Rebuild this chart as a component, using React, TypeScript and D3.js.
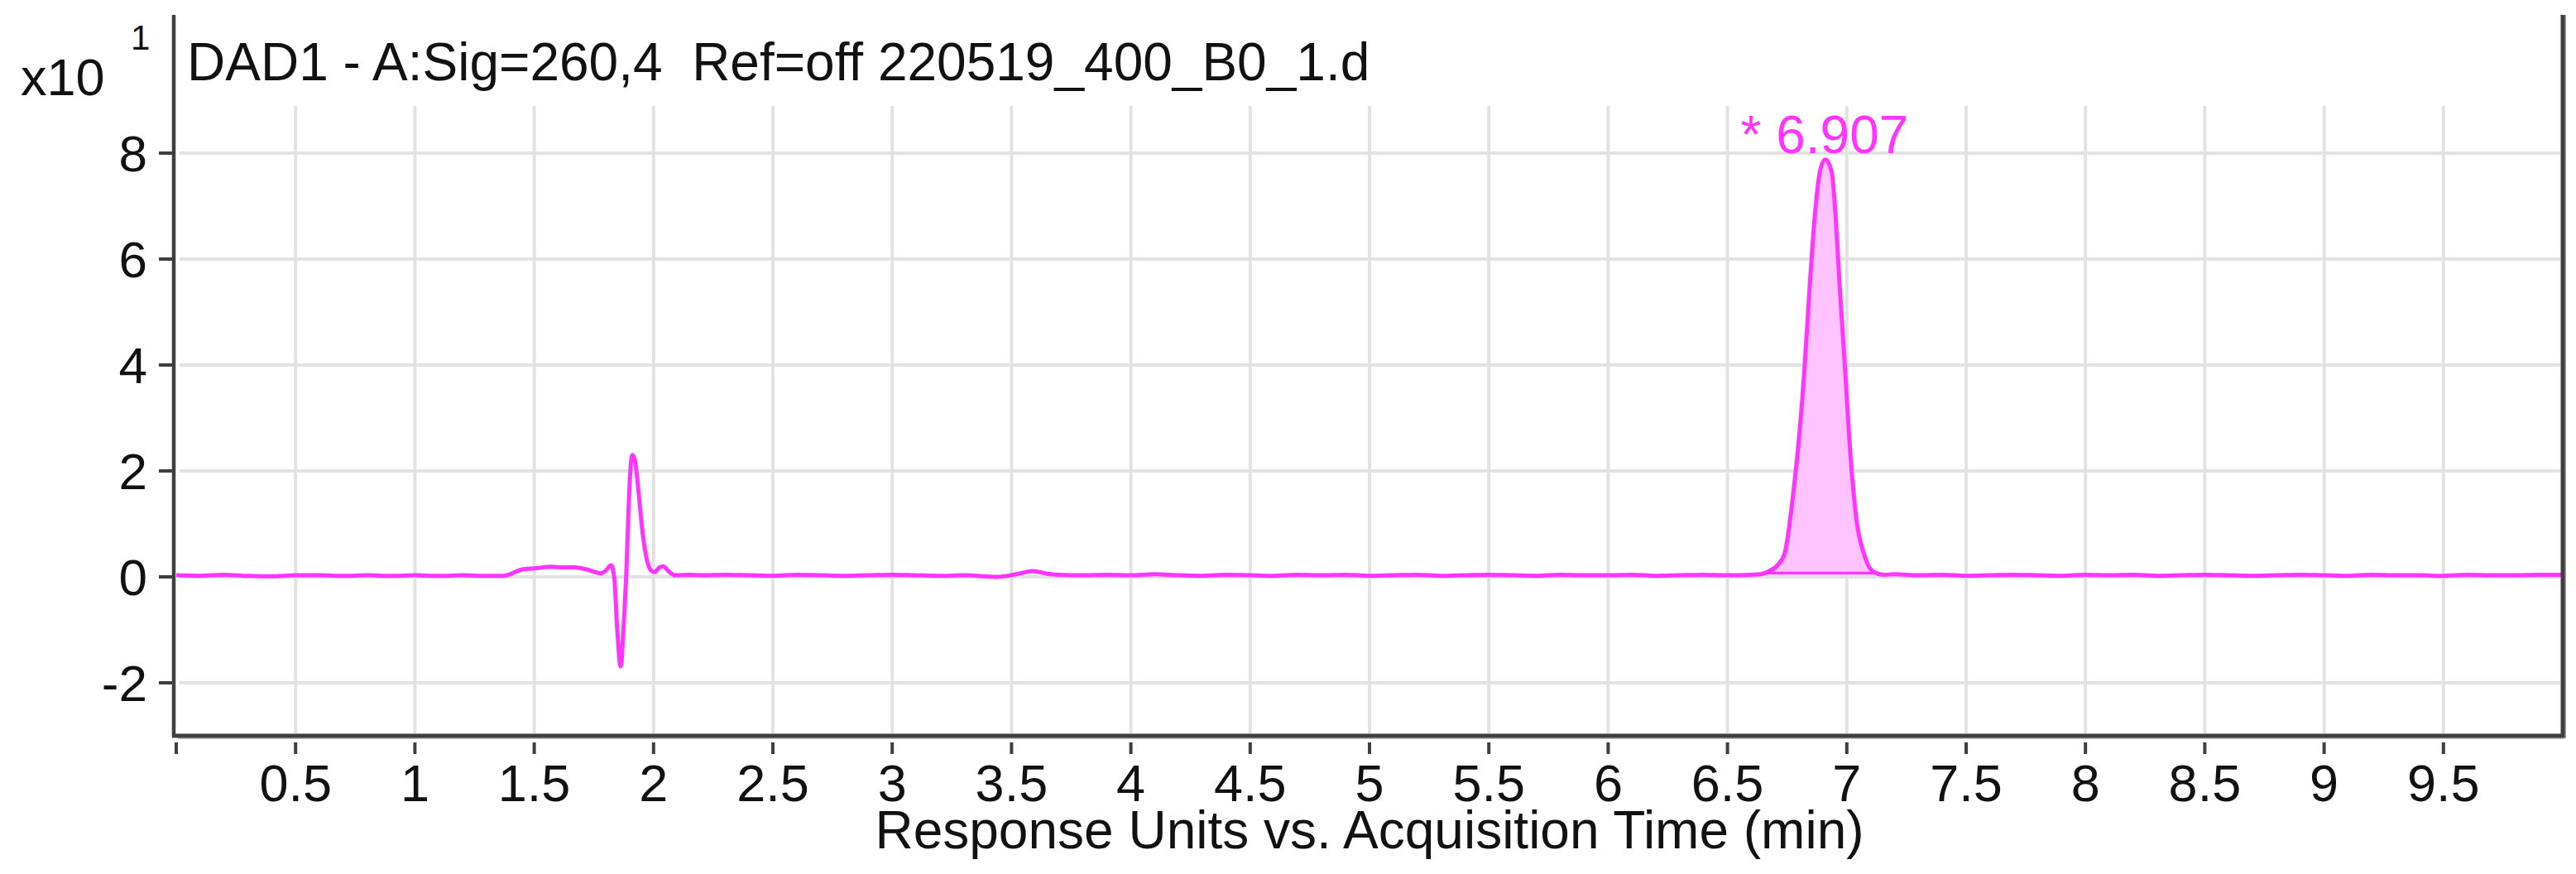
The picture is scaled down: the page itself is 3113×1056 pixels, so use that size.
import React, { useEffect } from 'react';
import * as d3 from 'd3';

const W = 3113;
const H = 1056;

const title = 'DAD1 - A:Sig=260,4  Ref=off 220519_400_B0_1.d';
const xTitle = 'Response Units vs. Acquisition Time (min)';
const yMultiplier = 'x10';
const yExponent = '1';

const xTicks = [0, 0.5, 1, 1.5, 2, 2.5, 3, 3.5, 4, 4.5, 5, 5.5, 6, 6.5, 7, 7.5, 8, 8.5, 9, 9.5];
const xTickLabels = ['', '0.5', '1', '1.5', '2', '2.5', '3', '3.5', '4', '4.5', '5', '5.5', '6', '6.5', '7', '7.5', '8', '8.5', '9', '9.5'];
const yTicks = [-2, 0, 2, 4, 6, 8];
const yTickLabels = ['-2', '0', '2', '4', '6', '8'];

const peakTime = 6.907;
const peakLabel = '* 6.907';
const peakApex = 7.88;
const peakFillStart = 6.655;
const peakFillEnd = 7.115;
const peakFillBase = 0.07;

// [time (min), response (x10^1)]
const trace: [number, number][] = [
  [0.0, 0.03], [0.1, 0.02], [0.2, 0.04], [0.3, 0.02], [0.4, 0.01], [0.5, 0.03],
  [0.6, 0.03], [0.7, 0.02], [0.8, 0.03], [0.9, 0.02], [1.0, 0.03], [1.1, 0.02],
  [1.2, 0.03], [1.3, 0.02], [1.37, 0.02], [1.45, 0.14], [1.5, 0.16], [1.57, 0.19],
  [1.62, 0.18], [1.67, 0.18], [1.72, 0.14], [1.78, 0.07], [1.8, 0.12], [1.822, 0.22],
  [1.835, 0.0], [1.848, -1.0], [1.862, -1.69], [1.875, -0.9], [1.887, 0.2], [1.898, 1.6],
  [1.911, 2.3], [1.922, 2.2], [1.935, 1.7], [1.955, 0.8], [1.972, 0.32], [1.99, 0.12],
  [2.005, 0.09], [2.025, 0.18], [2.041, 0.2], [2.06, 0.12], [2.09, 0.03], [2.15, 0.04],
  [2.2, 0.03], [2.3, 0.04], [2.4, 0.03], [2.5, 0.02], [2.6, 0.04], [2.7, 0.03],
  [2.8, 0.02], [2.9, 0.03], [3.0, 0.04], [3.1, 0.03], [3.2, 0.02], [3.3, 0.03],
  [3.44, 0.0], [3.52, 0.05], [3.59, 0.11], [3.65, 0.06], [3.7, 0.04], [3.8, 0.03],
  [3.9, 0.04], [4.0, 0.03], [4.1, 0.05], [4.2, 0.03], [4.3, 0.02], [4.4, 0.04],
  [4.5, 0.03], [4.6, 0.02], [4.7, 0.04], [4.8, 0.03], [4.9, 0.04], [5.0, 0.02],
  [5.1, 0.03], [5.2, 0.04], [5.3, 0.02], [5.4, 0.03], [5.5, 0.04], [5.6, 0.03],
  [5.7, 0.02], [5.8, 0.04], [5.9, 0.03], [6.0, 0.03], [6.1, 0.04], [6.2, 0.02],
  [6.3, 0.03], [6.4, 0.04], [6.5, 0.03], [6.6, 0.04], [6.64, 0.05], [6.671, 0.1],
  [6.71, 0.22], [6.74, 0.45], [6.775, 1.55], [6.798, 2.53], [6.821, 3.82], [6.844, 5.44],
  [6.867, 6.87], [6.89, 7.71], [6.91, 7.88], [6.937, 7.64], [6.954, 6.74], [6.971, 5.44],
  [6.994, 3.82], [7.017, 2.2], [7.04, 1.1], [7.075, 0.39], [7.11, 0.1], [7.156, 0.04],
  [7.2, 0.05], [7.3, 0.03], [7.4, 0.04], [7.5, 0.02], [7.6, 0.03], [7.7, 0.04],
  [7.8, 0.03], [7.9, 0.02], [8.0, 0.04], [8.1, 0.03], [8.2, 0.04], [8.3, 0.02],
  [8.4, 0.03], [8.5, 0.04], [8.6, 0.03], [8.7, 0.02], [8.8, 0.03], [8.9, 0.04],
  [9.0, 0.03], [9.1, 0.02], [9.2, 0.04], [9.3, 0.03], [9.4, 0.03], [9.5, 0.02],
  [9.6, 0.04], [9.7, 0.03], [9.8, 0.03], [9.9, 0.04], [10.0, 0.04],
];

const FONT = '"Liberation Sans", Arial, sans-serif';
const MAGENTA = '#ff35ff';
const FILL = '#ffc4ff';
const GRID = '#e2e2e2';
const AXIS = '#3f3f3f';

export default function App() {
  useEffect(() => {
    document.body.style.margin = '0';
    document.body.style.overflow = 'hidden';
  }, []);

  const left = 213;
  const right = 3097;
  const plotTop = 18;
  const gridTop = 128;
  const bottom = 889;

  const x = d3.scaleLinear().domain([0, 10]).range([left, right]);
  const y = d3.scaleLinear().domain([-3, 8]).range([bottom, 185]);

  const line = d3
    .line<[number, number]>()
    .x((d) => x(d[0]))
    .y((d) => y(d[1]))
    .curve(d3.curveMonotoneX);

  const peakPts = trace.filter((d) => d[0] >= peakFillStart - 0.02 && d[0] <= peakFillEnd + 0.01);
  const area = d3
    .area<[number, number]>()
    .x((d) => x(d[0]))
    .y0(() => y(peakFillBase))
    .y1((d) => y(Math.max(d[1], peakFillBase)))
    .curve(d3.curveMonotoneX);

  return (
    <svg
      width={W}
      height={H}
      style={{ position: 'absolute', left: 0, top: 0, background: '#fff' }}
      fontFamily={FONT}
    >
      <rect x={0} y={0} width={W} height={H} fill="#fff" />
      {/* vertical grid */}
      {xTicks.filter((t) => t > 0).map((t) => (
        <line key={'vg' + t} x1={x(t)} x2={x(t)} y1={gridTop} y2={bottom - 3} stroke={GRID} strokeWidth={4} />
      ))}
      {/* horizontal grid */}
      {yTicks.map((t) => (
        <line key={'hg' + t} x1={left + 4} x2={right - 3} y1={y(t)} y2={y(t)} stroke={GRID} strokeWidth={4} />
      ))}

      {/* peak fill */}
      <path d={area(peakPts) || ''} fill={FILL} stroke="none" />
      <line
        x1={x(peakFillStart)}
        x2={x(peakFillEnd)}
        y1={y(peakFillBase)}
        y2={y(peakFillBase)}
        stroke={MAGENTA}
        strokeWidth={3.5}
      />

      {/* signal */}
      <path d={line(trace) || ''} fill="none" stroke={MAGENTA} strokeWidth={5} strokeLinejoin="round" />

      {/* peak label */}
      <text
        x={x(peakTime)}
        y={y(peakApex) - 8}
        textAnchor="middle"
        fontSize={64}
        fill={MAGENTA}
        style={{ whiteSpace: 'pre' }}
      >
        {peakLabel}
      </text>

      {/* axes frame */}
      <line x1={left + 2} x2={right + 2} y1={bottom + 3} y2={bottom + 3} stroke="#bdbdbd" strokeWidth={2} />
      <line x1={right + 3} x2={right + 3} y1={plotTop} y2={bottom + 3} stroke="#9a9a9a" strokeWidth={2} />
      <line x1={left - 3} x2={left - 3} y1={plotTop} y2={bottom + 2} stroke={AXIS} strokeWidth={4.5} />
      <line x1={left - 5} x2={right + 1} y1={bottom} y2={bottom} stroke={AXIS} strokeWidth={5} />
      <line x1={right} x2={right} y1={plotTop} y2={bottom + 2} stroke={AXIS} strokeWidth={5} />

      {/* y ticks */}
      {yTicks.map((t, i) => (
        <g key={'yt' + t}>
          <line x1={192} x2={left - 3} y1={y(t)} y2={y(t)} stroke={AXIS} strokeWidth={4} />
          <text x={178} y={y(t)} dy="0.355em" textAnchor="end" fontSize={62} fill="#111">
            {yTickLabels[i]}
          </text>
        </g>
      ))}

      {/* x ticks */}
      {xTicks.map((t, i) => (
        <g key={'xt' + t}>
          <line x1={x(t)} x2={x(t)} y1={897} y2={911} stroke={AXIS} strokeWidth={4} />
          <text x={x(t)} y={968} textAnchor="middle" fontSize={63} fill="#111">
            {xTickLabels[i]}
          </text>
        </g>
      ))}

      {/* titles */}
      <text x={226} y={97} fontSize={64} fill="#111" style={{ whiteSpace: 'pre' }}>
        {title}
      </text>
      <text x={(left + right) / 2} y={1025} textAnchor="middle" fontSize={64} fill="#111">
        {xTitle}
      </text>
      <text x={25} y={115} fontSize={63} fill="#111">
        {yMultiplier}
      </text>
      <text x={158} y={60} fontSize={42} fill="#111">
        {yExponent}
      </text>
    </svg>
  );
}
